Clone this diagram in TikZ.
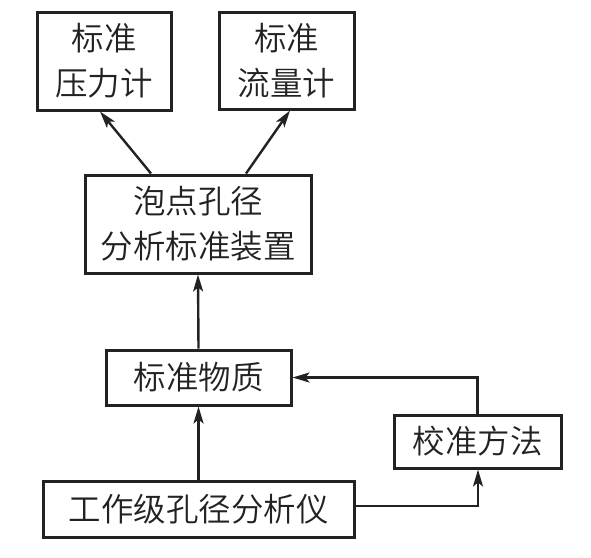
\documentclass[tikz,border=0pt]{standalone}
\usepackage{fontspec}
\newfontfamily\cjk{Noto Sans CJK SC}[UprightFont={* DemiLight}]
\usetikzlibrary{arrows.meta}
\definecolor{ink}{HTML}{222222}
\tikzset{
  box/.style={draw=ink, line width=3pt, inner sep=0pt, align=center, text=ink,
    font=\cjk\fontsize{32.5}{45}\selectfont},
  arr/.style={draw=ink, line width=2.4pt, -{Stealth[length=17pt,width=10pt,inset=4pt]}}
}
\begin{document}
\begin{tikzpicture}[x=1pt,y=-1pt]
\useasboundingbox (0,0) rectangle (591,557);
\node[box, minimum width=134pt, minimum height=98pt] (A) at (104,61) {标准\\压力计};
\node[box, minimum width=135pt, minimum height=97pt] (B) at (286.5,60.5) {标准\\流量计};
\node[box, minimum width=226pt, minimum height=98pt] (C) at (198,224) {泡点孔径\\分析标准装置};
\node[box, minimum width=185pt, minimum height=55pt] (D) at (198.5,377.5) {标准物质};
\node[box, minimum width=167pt, minimum height=53pt] (E) at (477.5,441.5) {校准方法};
\node[box, minimum width=311pt, minimum height=56pt] (F) at (198.5,509) {工作级孔径分析仪};
\coordinate (Fr) at ([yshift=3pt]F.east);
\coordinate (Er) at ([xshift=0.5pt]E.south);
\draw[arr] ([xshift=-47pt]C.north) -- ([xshift=-4pt]A.south);
\draw[arr] ([xshift=48pt]C.north) -- ([xshift=3.5pt]B.south);
\draw[arr] (D.north) -- (C.south);
\draw[arr] (F.north) -- (D.south);
\draw[arr] (Fr) -| (Er);
\draw[arr] (E.north) |- (D.east);
\end{tikzpicture}
\end{document}
